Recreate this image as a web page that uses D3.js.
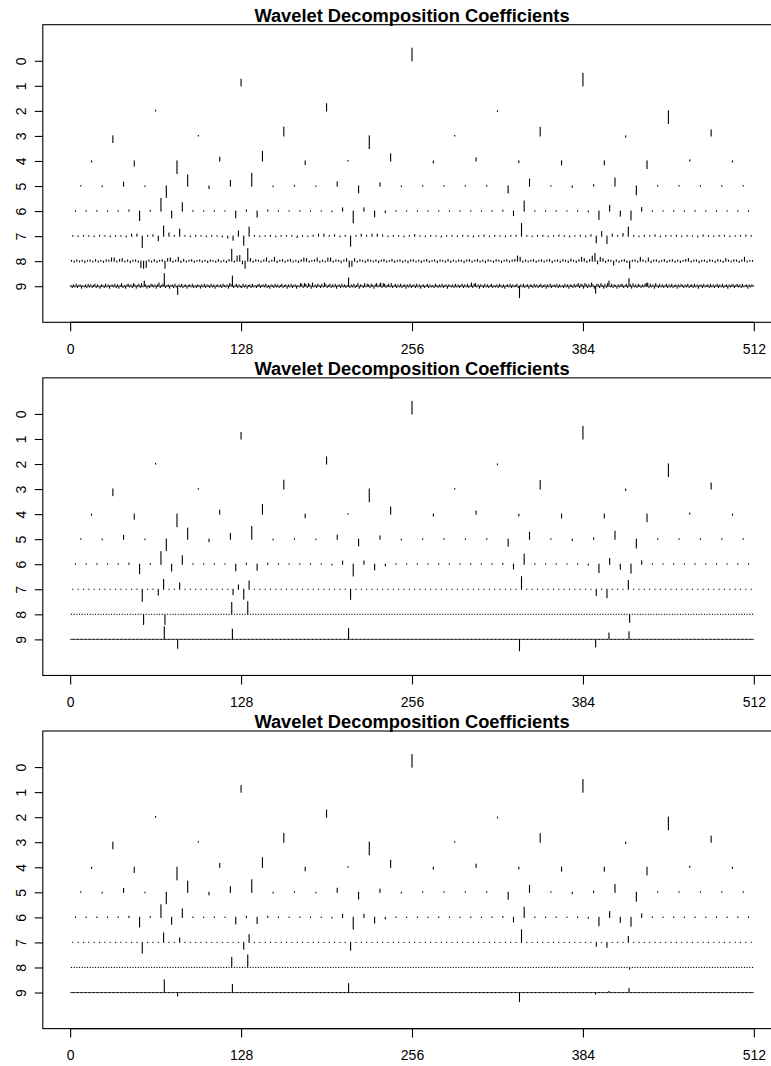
<!DOCTYPE html>
<html>
<head>
<meta charset="utf-8">
<script src="https://cdn.jsdelivr.net/npm/d3@7"></script>
<style>
  html, body { margin: 0; padding: 0; background: #fff; }
  svg { display: block; }
  text { font-family: "Liberation Sans", Arial, Helvetica, sans-serif; fill: #000; }
</style>
</head>
<body>
<script>
// ---- labels -------------------------------------------------------------
const chartTitle = "Wavelet Decomposition Coefficients";
const levelLabels = [0, 1, 2, 3, 4, 5, 6, 7, 8, 9];
const xTickValues = [0, 128, 256, 384, 512];

// ---- detail coefficients, coarse levels (shared by all three plots) ------
const level0 = [9.7];
const level1 = [5.2, 10];
const level2 = [0.5, 5.6, -0.5, -10];
const level3 = [-5.2, 0.3, 7, -10, 0.3, 6.8, -1, 4.8];
const level4 = [-0.8, -4, -10, 3, 7.6, -2.8, 0.3, 5.6, -1.5, 2.4, -1.3, -3, -3, -6, 0.8, -0.8];
const level5 = [0.3, -0.5, 3, -0.3, -9, 8.8, -2, 4.5, 10, -0.5, 0.4, -0.3, 3.2, -5.3, 2.5, -0.5,
                0.3, 0.3, 0.3, 0.4, -5.5, 5.5, 0.3, -1, 1, 6.3, -7, 0.4, 0.3, 0.3, 0.3, 0.3];
const level6 = [0.3, 0.2, 0.3, 0.2, 0.3, 0.8, -7.5, 0.5, 10, -5.4, 6.7, 0.3, 0.2, 0.3, 0.2, -5.2,
                0.8, -4.8, 0.8, 0.3, 0.2, 0.3, 0.3, 0.2, -0.5, 2.5, -9.3, 2.5, -4.5, -1.2, 0.3, 0.2,
                0.3, 0.2, 0.3, 0.3, 0.2, 0.3, 0.2, 0.3, 0.6, -3.6, 8, 0.3, 0.2, 0.3, 0.2, 0.3,
                -0.6, -6.6, 4.5, -4, -7, 2.7, 0.3, 0.2, 0.3, 0.2, 0.3, 0.2, 0.3, 0.2, 0.3, 0.3];

// ---- fine levels of the raw decomposition --------------------------------
const level7Raw = [
  0.4, -0.3, 0.5, 0.3, -0.4, 0.6, 0.3, -0.5, 0.4, 0.3, -0.6, 1.5, 1.5, -9, 0.5, 1,
  -3.6, 8, 2.4, 0.5, 5.6, 0.4, -0.5, 0.6, 0.3, -0.4, 0.5, 0.3, -0.6, -1.5, -3.2, 4,
  -7.2, 7.2, 0.5, -0.4, 0.3, 0.6, -0.5, 0.4, 0.3, 0.5, -1, 0.4, -0.3, 0.6, 1.5, 1.5,
  0.4, 1, -0.5, 0.6, -8, 0.5, 1.5, 0.4, 1.5, 1.5, 0.8, -0.4, 0.5, 0.3, -0.5, 0.4,
  1.2, 0.3, -0.4, 0.5, 0.3, -0.6, 0.4, 0.5, -0.3, 0.6, 0.4, -0.5, 0.3, 0.8, -0.4, 0.5,
  0.3, -0.5, 0.4, 0.6, 10, 0.4, -0.3, 0.5, 0.6, -0.4, 0.3, 0.8, 0.4, -0.5, 0.3, 0.6,
  -0.4, 1, -5.3, 3.5, -5.8, 1.5, 0.4, 2, 7.2, 0.5, -0.4, 0.6, 0.3, 1, -0.5, 0.4,
  0.3, 0.6, -0.4, 0.5, 0.3, -0.6, 0.8, 0.4, -0.3, 0.5, 0.6, -0.4, 0.3, 0.5, 0.8, 0.4
];
const level8Raw = [
  0.6, -0.8, 1.0, -0.5, 0.7, -1.1, 0.4, 0.9, -0.6, 1.2, -0.7, 0.5, -0.9, 1.1, 0.8, 2.5,
  2.5, -0.7, 1.3, 2.0, -0.6, 0.9, -1.2, 0.7, 1.0, -0.8, -5.0, -5.6, -4.8, 0.9, -0.7, 1.2,
  -0.9, 0.6, 1.1, -5.6, 2.0, 2.5, -0.8, 0.7, 3.0, -1.0, 1.4, -0.6, 0.8, 1.2, -0.9, 0.5,
  1.0, -0.7, 0.6, -1.1, 0.9, 0.5, -0.8, 1.3, -0.6, 0.7, -1.0, 1.2, 9.4, -0.8, 4.0, 4.5,
  -2.0, -5.6, 10.0, 2.0, -0.9, 1.1, 0.6, -0.7, 1.0, 2.5, -0.6, 0.8, 3.0, -1.1, 0.7, 1.2,
  -0.8, 0.9, 1.4, -0.6, 0.7, -1.0, 1.1, 2.5, 2.0, -0.7, 0.6, 1.0, 2.5, -0.9, 0.8, -0.6,
  2.5, 2.5, -0.8, 1.0, 0.6, -1.2, 0.9, 2.0, -4.5, -4.0, 2.0, -0.7, 1.1, 0.6, -0.9, 1.3,
  0.7, -0.6, 1.0, -1.1, 0.8, 1.2, -0.7, 0.5, 1.4, -0.9, 0.6, 1.0, -0.8, 0.7, -1.2, 0.9,
  1.1, -0.6, 0.8, -1.0, 0.7, 1.3, -0.8, 0.5, 1.0, -1.1, 0.9, 0.6, -0.7, 1.2, -0.9, 0.8,
  -0.6, 1.0, 0.7, -1.2, 0.9, 1.1, -0.8, 0.6, 1.3, -0.7, 0.8, -1.0, 1.1, 0.5, -0.9, 1.2,
  0.8, -1.0, 0.6, 1.1, -0.7, 0.9, 1.4, 4.0, 3.0, -0.8, 1.0, -0.6, 0.7, 1.2, -0.9, 0.6,
  1.0, -0.7, 0.8, 1.3, -1.1, 0.6, 0.9, -0.8, 1.2, 0.7, -1.0, 1.5, 0.6, -0.9, 1.1, 3.0,
  2.0, -1.0, 1.2, 4.0, 6.0, -2.0, 3.0, 2.0, -0.9, 1.1, 0.7, -3.0, 1.0, -0.8, 0.6, 1.2,
  -1.0, -5.6, 0.8, 1.0, -0.7, 3.0, 0.9, -0.6, 2.5, -1.1, 0.8, 1.0, -0.7, 0.6, 1.2, -0.9,
  0.7, 1.1, -0.8, 0.9, -1.0, 0.6, 1.3, 2.0, -0.7, 0.8, 1.0, -1.2, 0.6, 0.9, -0.8, 1.1,
  0.6, -0.9, 1.2, 0.7, -1.0, 2.0, 0.8, -0.6, 1.1, 0.9, -0.8, 1.0, 3.0, -0.7, 0.6, 0.5
];
const level9Raw = [
  1, -2, 2, -1, 3, -2, 1, 2, -3, 1, -1, 2, -2, 3, -1, 2,
  -2, 1, 3, -2, 2, -1, -3, 2, 1, -2, 3, -1, 2, -3, 1, 2,
  -1, 3, -2, 2, -3, 1, 4, -2, 1, -3, 2, 3, -1, 2, -2, 4,
  2, -3, 1, 3, -2, 4, -1, 8, 2, -3, 1, -2, 3, 2, -1, 2,
  -3, 2, 5, -2, 1, 3, 20, -2, 1, 2, -3, 1, 2, -2, 3, -1,
  -13, 2, -1, 3, -2, 1, 2, -3, 1, 2, -1, 3, -2, 1, -2, 2,
  1, -3, 2, -1, 3, -2, 2, 1, -2, 3, -1, 2, -3, 1, 2, -1,
  2, -2, 3, 1, -1, 2, -3, 4, 2, 16, -2, 1, 3, -2, 2, -1,
  -2, 3, -1, 2, -3, 1, 2, -2, 3, -1, 1, -2, 2, 3, -2, 1,
  2, -1, 3, -2, 1, -3, 2, 1, -2, 3, -1, 2, -2, 1, 3, -2,
  1, 2, -3, 2, -1, 3, -2, 1, 2, -3, 1, -1, 4, 3, -2, 4,
  3, -2, 4, 2, -3, 5, -1, 2, -2, 3, 1, -2, 3, -1, 5, 2,
  -2, 1, 3, -2, 2, -1, 3, -3, 1, 2, -2, 3, -1, 2, -2, 1,
  13, -2, 2, -1, 3, -2, 1, 4, -3, 2, 1, -2, 4, -1, 3, 2,
  -2, 3, 1, -3, 2, 4, -1, 2, 5, -2, 4, 3, -2, 1, 3, -1,
  4, -2, 1, 3, -2, 2, -1, 3, -2, 1, 2, -3, 2, -1, 3, -2,
  1, 2, -2, 3, -1, 2, -3, 1, 2, -2, 1, 3, -2, 2, -1, 1,
  -2, 3, 1, -2, 2, -1, 3, -2, 1, 2, -3, 2, 1, -1, 2, -2,
  3, -1, 2, -2, 1, 3, -2, 2, -1, 3, -2, 1, 5, -2, 3, 4,
  -1, 2, -3, 2, 1, -2, 3, -1, 2, -2, 1, 3, -2, 1, -1, 2,
  -2, 3, 1, -2, 2, -3, 1, 2, -1, 3, -2, 2, -1, 1, 3, -2,
  -18, 2, -1, 3, -2, 1, 2, -3, 2, 1, -2, 3, -1, 2, -2, 1,
  3, -2, 1, 2, -3, 2, -1, 3, -2, 1, 2, -1, 3, -2, 2, -1,
  1, -2, 3, -1, 2, -3, 2, 1, -2, 3, -1, 2, 4, -2, 3, 2,
  -3, 4, 2, -2, 3, -1, 5, 2, -3, -11, 3, 2, -2, 4, 1, -3,
  3, -2, 4, 8, -1, 3, -2, 2, 1, -3, 2, -1, 3, 2, -2, 1,
  3, -2, 12, 2, -3, 4, -1, 2, -2, 3, 1, -2, 2, -1, 3, 4,
  5, -2, 3, -1, 2, -3, 4, 1, -2, 3, -1, 2, -2, 1, 3, -2,
  2, -1, 3, -2, 1, 2, -3, 2, -1, 3, 1, -2, 2, -1, 3, -2,
  1, 2, -2, 3, -1, 2, -3, 1, 2, -2, 3, -1, 1, 2, -2, 3,
  -1, 2, -2, 1, 3, -2, 2, -1, 3, -2, 1, 2, -3, 2, -1, 2,
  2, -2, 1, 3, -1, 2, -2, 3, -1, 1, 2, -3, 2, -1, 2, 1
];

// ---- fine levels after thresholding: surviving [index, value] pairs -------
const level7KeptA = [[13, -9.6], [16, -4.6], [17, 7.8], [20, 5], [30, -4.2], [31, 3.4], [32, -7.8],
                     [33, 6.6], [52, -8], [84, 10], [98, -5], [100, -6.6], [104, 7]];
const level8KeptA = [[27, -8], [35, -8], [60, 9.4], [66, 10], [209, -6.4]];
const level9KeptA = [[70, 10], [80, -7], [121, 8], [208, 8.7], [336, -9], [393, -6], [403, 5], [418, 6]];

const level7KeptB = [[13, -8.5], [17, 7.5], [20, 3.5], [32, -5.3], [33, 6.2], [52, -6.2], [84, 10],
                     [98, -3], [100, -3.8], [104, 4.8]];
const level8KeptB = [[60, 8], [66, 10], [209, -1.2]];
const level9KeptB = [[70, 10], [80, -2.7], [121, 6.4], [208, 7], [336, -7.2], [393, -1.2], [403, 0.8], [418, 3.2]];

// ---- build the three coefficient sets ------------------------------------
function fromKept(n, kept) {
  const out = new Array(n).fill(0);
  kept.forEach(([k, v]) => { out[k] = v; });
  return out;
}
const coarse = [level0, level1, level2, level3, level4, level5, level6];
const decompositions = [
  coarse.concat([level7Raw, level8Raw, level9Raw]),
  coarse.concat([fromKept(128, level7KeptA), fromKept(256, level8KeptA), fromKept(512, level9KeptA)]),
  coarse.concat([fromKept(128, level7KeptB), fromKept(256, level8KeptB), fromKept(512, level9KeptB)])
];

// ---- layout ---------------------------------------------------------------
const width = 771, height = 1066;
const nLevels = levelLabels.length;
const nSignal = 512;
const plotLeft = 42.8, plotRight = 781.2;
const panelTop0 = 24.7, panelStep = 353.15, panelHeight = 297.6;

const svg = d3.select("body").append("svg")
  .attr("width", width).attr("height", height)
  .attr("viewBox", `0 0 ${width} ${height}`);

// R-style 4% range extension on both axes
const xDom = [0 - 0.04 * nSignal, nSignal + 0.04 * nSignal];
const yDom = [0 - 0.04 * (nLevels + 1), (nLevels + 1) + 0.04 * (nLevels + 1)];

decompositions.forEach((levels, p) => {
  const top = panelTop0 + p * panelStep;
  const bottom = top + panelHeight;
  const x = d3.scaleLinear().domain(xDom).range([plotLeft, plotRight]);
  const y = d3.scaleLinear().domain(yDom).range([bottom, top]);
  const g = svg.append("g");

  // title
  g.append("text")
    .attr("x", (plotLeft + plotRight) / 2)
    .attr("y", top - 3.1)
    .attr("text-anchor", "middle")
    .style("font-weight", "bold")
    .style("font-size", "18.3px")
    .text(chartTitle);

  // coefficient bars, scaled per level so the largest reaches half a level
  levels.forEach((coefs, j) => {
    const n = coefs.length;
    const maxAbs = d3.max(coefs, v => Math.abs(v)) || 1;
    const base = nLevels - j;
    const bars = coefs.map((v, k) => ({
      pos: (k + 0.5) * nSignal / n,
      y0: y(base),
      y1: y(base + 0.5 * v / maxAbs)
    }));
    g.append("g").selectAll("rect")
      .data(bars)
      .join("rect")
      .attr("x", d => x(d.pos) - 0.55)
      .attr("width", 1.1)
      .attr("y", d => Math.min(d.y0, d.y1) - 0.55)
      .attr("height", d => Math.abs(d.y1 - d.y0) + 1.1)
      .attr("fill", "#000");
  });

  // frame
  g.append("rect")
    .attr("x", plotLeft).attr("y", top)
    .attr("width", plotRight - plotLeft).attr("height", panelHeight)
    .attr("fill", "none").attr("stroke", "#000").attr("stroke-width", 1.1);

  // left axis: level numbers, finest at the bottom
  const yAxis = d3.axisLeft(y)
    .tickValues(levelLabels.map(l => nLevels - l))
    .tickFormat(v => String(nLevels - v))
    .tickSize(8)
    .tickPadding(0);
  const ya = g.append("g").attr("transform", `translate(${plotLeft},0)`).call(yAxis);
  ya.select(".domain").remove();
  ya.selectAll(".tick line").attr("stroke", "#000").attr("stroke-width", 1.1);
  ya.selectAll(".tick text")
    .attr("x", null).attr("dy", null)
    .attr("transform", `translate(${26 - plotLeft},0) rotate(-90)`)
    .attr("text-anchor", "middle")
    .style("font-size", "14px")
    .style("font-family", "'Liberation Sans', Arial, Helvetica, sans-serif");

  // bottom axis
  const xAxis = d3.axisBottom(x)
    .tickValues(xTickValues)
    .tickFormat(d3.format("d"))
    .tickSize(9)
    .tickPadding(0);
  const xa = g.append("g").attr("transform", `translate(0,${bottom})`).call(xAxis);
  xa.select(".domain")
    .attr("d", `M${x(xTickValues[0])},0H${x(xTickValues[xTickValues.length - 1])}`)
    .attr("stroke", "#000").attr("stroke-width", 1.1);
  xa.selectAll(".tick line").attr("stroke", "#000").attr("stroke-width", 1.1);
  xa.selectAll(".tick text")
    .attr("y", 31.7).attr("dy", null)
    .style("font-size", "14px")
    .style("font-family", "'Liberation Sans', Arial, Helvetica, sans-serif");
});
</script>
</body>
</html>
